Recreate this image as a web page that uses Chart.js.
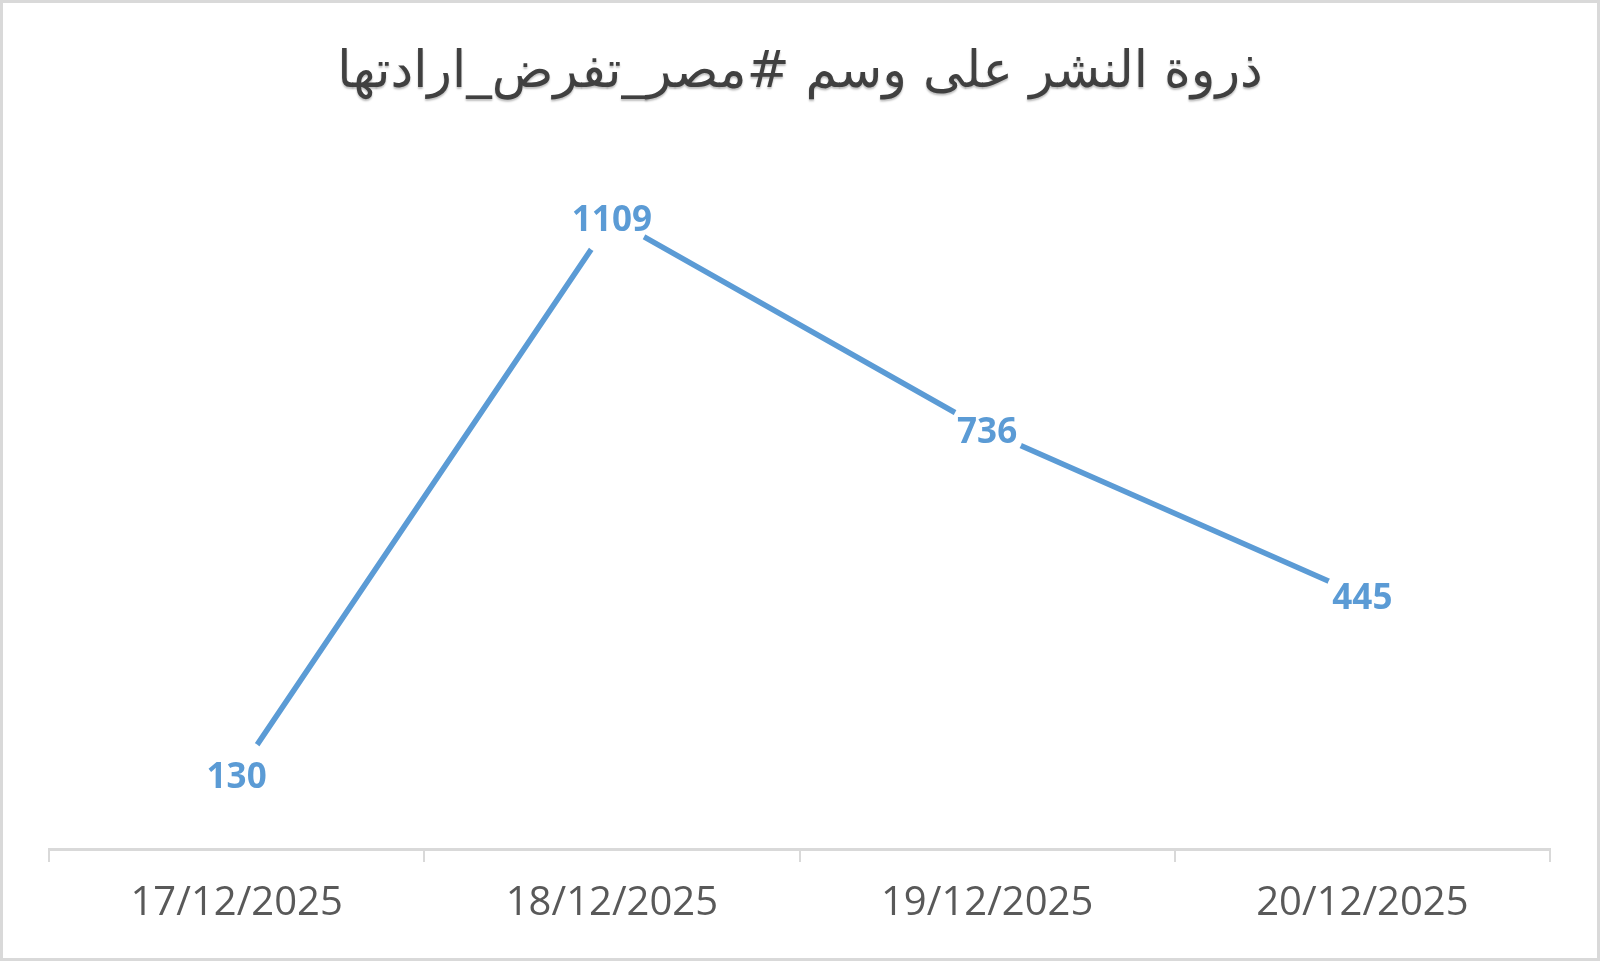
<!DOCTYPE html>
<html>
<head>
<meta charset="utf-8">
<script src="https://cdn.jsdelivr.net/npm/chart.js@4/dist/chart.umd.min.js"></script>
<style>
  html, body { margin: 0; padding: 0; background: #fff; }
  #wrap {
    width: 1600px; height: 961px; box-sizing: border-box;
    border: 3px solid #d9d9d9; background: #fff;
  }
  #wrap canvas { display: block; }
</style>
</head>
<body>
<div id="wrap"><canvas id="chart" width="1594" height="955"></canvas></div>
<script>
var titleText = 'ذروة النشر على وسم #مصر_تفرض_ارادتها';
var dates = ['17/12/2025', '18/12/2025', '19/12/2025', '20/12/2025'];
var posts = [130, 1109, 736, 445];
var yMax = 1200;

var lineBlue = '#5b9bd5';

// title drawn by hand so the plot area keeps a fixed top
var titlePlugin = {
  id: 'arTitle',
  afterDraw: function (chart) {
    var ctx = chart.ctx;
    ctx.save();
    ctx.font = '51px "DejaVu Sans"';
    ctx.direction = 'rtl';
    ctx.textAlign = 'center';
    ctx.textBaseline = 'middle';
    ctx.fillStyle = '#404040';
    ctx.shadowColor = 'rgba(0,0,0,0.25)';
    ctx.shadowOffsetY = 2;
    ctx.shadowBlur = 2;
    ctx.fillText(titleText, chart.width / 2, 71);
    ctx.restore();
  }
};

// values written on top of each point
var valueLabels = {
  id: 'valueLabels',
  afterDatasetsDraw: function (chart) {
    var ctx = chart.ctx;
    var size = 35;
    var meta = chart.getDatasetMeta(0);
    ctx.save();
    ctx.font = 'bold ' + size + 'px "Open Sans"';
    ctx.fillStyle = lineBlue;
    ctx.textAlign = 'center';
    ctx.textBaseline = 'alphabetic';
    meta.data.forEach(function (pt, i) {
      ctx.fillText(String(posts[i]), pt.x, pt.y + size * 0.357);
    });
    ctx.restore();
  }
};

new Chart(document.getElementById('chart').getContext('2d'), {
  type: 'line',
  data: {
    labels: dates,
    datasets: [{
      data: posts,
      borderColor: lineBlue,
      borderWidth: 5.5,
      tension: 0,
      fill: false,
      // white discs cut the line around each label
      pointRadius: 37,
      pointHoverRadius: 37,
      pointBackgroundColor: '#fff',
      pointBorderWidth: 0,
      pointBorderColor: '#fff'
    }]
  },
  options: {
    responsive: false,
    animation: false,
    events: [],
    layout: {
      padding: { top: 164, left: 46, right: 47, bottom: 0 }
    },
    plugins: {
      legend: { display: false },
      title: { display: false },
      tooltip: { enabled: false }
    },
    scales: {
      x: {
        offset: true,
        afterFit: function (scale) { scale.height = 109; },
        border: { display: true, color: '#d9d9d9', width: 3 },
        grid: {
          offset: true,
          drawOnChartArea: false,
          drawTicks: true,
          tickLength: 13,
          color: '#d9d9d9',
          lineWidth: 2
        },
        ticks: {
          color: '#595959',
          padding: 18,
          maxRotation: 0,
          font: { family: '"Open Sans"', size: 40 }
        }
      },
      y: {
        display: false,
        min: 0,
        max: yMax
      }
    }
  },
  plugins: [titlePlugin, valueLabels]
});
</script>
</body>
</html>
